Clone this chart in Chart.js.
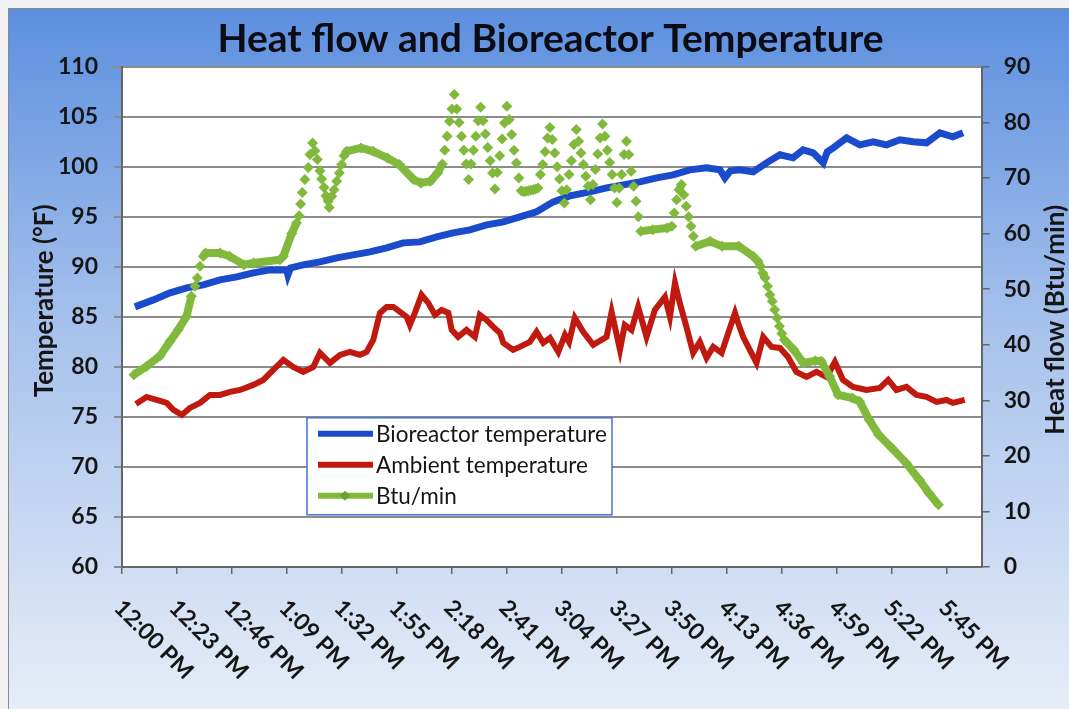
<!DOCTYPE html>
<html>
<head>
<meta charset="utf-8">
<script src="https://cdn.jsdelivr.net/npm/chart.js@4.4.1/dist/chart.umd.min.js"></script>
<style>
  html, body { margin: 0; padding: 0; background: #fff; }
</style>
</head>
<body>
<canvas id="myChart" width="1069" height="709"></canvas>
<script>
// time axis in minutes after 12:00 PM, one label every 23 minutes
const tickLabels = ['12:00 PM','12:23 PM','12:46 PM','1:09 PM','1:32 PM','1:55 PM','2:18 PM','2:41 PM',
  '3:04 PM','3:27 PM','3:50 PM','4:13 PM','4:36 PM','4:59 PM','5:22 PM','5:45 PM'];
const tickStep = 23;

// Bioreactor temperature (°F)
const bioMinutes = [5.4,13.1,20.1,27.1,34,41,48,54.9,61.9,68.9,69.4,70.5,75.8,82.8,89.8,96.7,103.7,110.7,117.6,124.6,
  131.6,138.5,145.5,152.5,159.5,166.4,173.4,180.4,187.3,195.7,202.7,209.6,216.6,223.6,230.5,237.5,244.5,250.1,252.2,254.5,
  258.4,264,269.6,275.2,280.7,284.9,289.1,293.3,295,297.5,303.1,308.6,314.2,319.8,325.4,330.9,336.5,342.1,347.6,351.8];
const bioTemp = [86,86.7,87.4,87.9,88.2,88.7,89,89.4,89.7,89.7,89.2,89.9,90.2,90.5,90.9,91.2,91.5,91.9,92.4,92.5,
  93,93.4,93.7,94.2,94.5,95,95.5,96.5,97.1,97.5,97.9,98.2,98.5,98.9,99.2,99.7,99.9,99.7,98.9,99.6,
  99.7,99.5,100.4,101.2,100.9,101.7,101.4,100.4,101.5,101.9,102.9,102.2,102.5,102.2,102.7,102.5,102.4,103.4,103,103.4];

// Ambient temperature (°F)
const ambMinutes = [5.8,10.3,14.5,18.7,21.5,25,28.4,32.6,36.8,41,45.2,49.4,54.9,59.1,63.3,67.5,71.6,75.8,80,82.8,
  87,91.2,95.3,99.5,102.3,105.1,107.9,110.7,113.5,116.3,119.1,120.4,122.5,125.3,128.1,130.9,133.7,136.5,137.9,140.6,
  144.1,147.6,149.7,152.5,155.3,158.1,159.5,163.6,166.4,170.6,173.4,176.2,179,182.5,185.3,187,189.4,192.9,197.1,202.7,
  204.8,208.3,210.3,213.1,215.9,219.4,222.9,227.1,229.2,231.3,233.3,236.1,238.9,241.7,244.5,247.3,250.8,253.6,256.4,257.7,
  259.8,262.6,265.4,268.2,271.7,275.2,278.6,282.1,286.3,290.5,294.7,298.2,301.6,305.8,311.4,317,320.5,323.9,328.1,332.3,
  336.5,340.7,344.9,347.6,352.5];
const ambTemp = [76.3,77,76.7,76.4,75.7,75.2,75.9,76.4,77.2,77.2,77.5,77.7,78.2,78.7,79.7,80.7,80,79.5,80,81.4,
  80.4,81.2,81.5,81.2,81.5,82.7,85.4,86,86,85.5,85,84.2,85.4,87.2,86.4,85.2,85.7,85.4,83.7,83,
  83.7,83,85.2,84.7,84,83.4,82.4,81.7,82,82.5,83.5,82.4,82.9,81.5,83.2,82.5,84.9,83.5,82.2,83,
  85.5,81.7,84.2,83.7,86,83,85.7,87,85,88.4,86.4,84,81.4,82.5,80.9,82,81.4,83.4,85.4,84.4,
  83,81.7,80.4,83,82,81.9,81,79.5,79,79.5,79,80.5,78.7,78,77.7,77.9,78.7,77.7,78,77.2,
  77,76.5,76.7,76.4,76.7];

// Heat flow (Btu/min)
const btuMinutes = [5,10.3,15.9,20.1,23.5,27,29,30.5,31.5,32.6,34,35,41,45,51,55,66,67.5,71,73,
  74.1,74.7,75.4,76.5,77.9,78.6,79.7,80.7,81.7,82.8,83.5,84.5,85.3,86.3,86.7,87.7,88.7,89.8,90.9,91.9,
  92.9,94,100,105,111,116,122,125,129,132,
  134,135,136,137,138,139,140,141,142,143,144,145,146,147,148,149,150,151,152,153,
  154,155,156,157,158,159,160,161,162,163,164,165,166,167,168,169,170,171,172,173,
  174,175,176,177,178,179,180,181,182,183,184,185,186,187,188,189,190,191,192,193,
  194,195,196,197,198,199,200,201,202,203,204,205,206,207,208,209,210,211,212,213,
  214,215,216,217,222,228,230,231,232,233,234,235,236,237,238,239,240,246,251,258,
  264,266,267,268,269,270,271,272,273,274,275,276,277,281,285,290,292.5,296,299.5,305.5,
  308.5,312.5,316.5,322,328,333.5,337.5,341.5];
const btuValues = [34.6,36.1,38,40.6,42.7,45.1,48.7,50.5,52,54.1,55.9,56.5,56.5,55.9,54.4,54.7,55.3,55.9,60,61.9,
  63.2,65.3,67.4,69.7,71.9,74.2,76.3,74.9,73.3,71.3,69.8,68.3,66.8,65.8,64.7,66.7,67.9,69.4,70.9,72.4,
  74,74.8,75.4,74.8,73.6,72.4,69.7,69.1,69.4,70.9,
  72.5,75,77.5,80.2,82.4,85,82.4,80,77.5,75,72.5,69.7,72.5,75,77.5,80.3,82.7,80.3,77.9,75.5,
  73.1,70.9,68,71,74,77,79.9,82.9,80.5,77.8,75,72.7,70,67.7,67.5,67.6,67.7,67.8,67.9,68,
  68.2,70.6,72.4,74.7,77.2,79.1,76.9,74.5,72,69.8,67.7,65.5,67.9,70.6,73.1,76,78.7,76.6,74.5,72.4,
  70.3,68.5,66.1,68.8,71.5,74.3,77.2,79.7,77.5,75,72.8,70.6,68.2,65.6,68.2,70.6,74.2,76.6,74.2,71.2,
  68.5,65.8,63,60.4,60.7,61,61.3,63.7,66.1,67.9,68.8,67,64.9,63,61.3,59.5,57.7,58.6,57.7,57.7,
  55.9,55,54.1,52.9,52,50.5,49,47.8,46.3,44.8,43.3,42,40.9,39.1,36.7,37.1,37,34.3,31,30.4,
  29.8,26.5,23.8,21.4,18.7,15.7,13.3,11.2];

const BLUE = '#1a4bcc';
const RED = '#c0190f';
const GREEN = '#80b93b';

function toPoints(xs, ys) {
  return xs.map((x, i) => ({ x: x, y: ys[i] }));
}

// page background, gradient frame and white plot area
const bgPlugin = {
  id: 'bg',
  beforeDraw(chart) {
    const { ctx, chartArea: a, width, height } = chart;
    ctx.save();
    ctx.fillStyle = '#f2f2f2';
    ctx.fillRect(0, 0, width, height);
    const g = ctx.createLinearGradient(0, 8, 0, height);
    g.addColorStop(0, '#5c8fdf');
    g.addColorStop(0.45, '#a6c1ec');
    g.addColorStop(1, '#e6edf8');
    ctx.fillStyle = g;
    ctx.fillRect(8, 8, width - 8, height - 8);
    ctx.strokeStyle = '#8a8a8a';
    ctx.lineWidth = 1;
    ctx.strokeRect(8.5, 8.5, width, height);
    ctx.fillStyle = '#ffffff';
    ctx.fillRect(a.left, a.top, a.right - a.left, a.bottom - a.top);
    ctx.restore();
  }
};

function verticalText(ctx, text, x, y) {
  ctx.save();
  ctx.translate(x, y);
  ctx.rotate(-Math.PI / 2);
  ctx.fillText(text, 0, 0);
  ctx.restore();
}

// rotated time labels, axis titles and the boxed legend
const extrasPlugin = {
  id: 'extras',
  afterDraw(chart) {
    const { ctx, chartArea: a } = chart;
    const xs = chart.scales.x;
    ctx.save();
    ctx.fillStyle = '#151515';
    ctx.font = 'bold 23px Lato';
    ctx.textAlign = 'left';
    ctx.textBaseline = 'middle';
    xs.ticks.forEach((t, i) => {
      const px = xs.getPixelForValue(t.value);
      ctx.save();
      ctx.translate(px - 4, a.bottom + 37);
      ctx.rotate(Math.PI / 4);
      ctx.fillText(tickLabels[i], 0, 0);
      ctx.restore();
    });

    ctx.font = 'bold 26px Lato';
    ctx.textAlign = 'center';
    verticalText(ctx, 'Temperature (°F)', 45, a.top + 234);
    verticalText(ctx, 'Heat flow (Btu/min)', 1056, a.top + 253);

    const lx = a.left + 185, ly = a.top + 351, lw = 305, lh = 97;
    ctx.fillStyle = '#ffffff';
    ctx.fillRect(lx, ly, lw, lh);
    ctx.strokeStyle = '#3f74d6';
    ctx.lineWidth = 1.5;
    ctx.strokeRect(lx, ly, lw, lh);
    ctx.font = '22.5px Lato';
    ctx.textAlign = 'left';
    chart.data.datasets.forEach((ds, i) => {
      const y = ly + 16 + i * 31;
      ctx.strokeStyle = ds.borderColor;
      ctx.lineWidth = 6;
      ctx.beginPath();
      ctx.moveTo(lx + 11, y);
      ctx.lineTo(lx + 66, y);
      ctx.stroke();
      if (ds.pointStyle === 'rectRot') {
        ctx.fillStyle = '#6aa02c';
        ctx.beginPath();
        ctx.moveTo(lx + 38 - 5, y);
        ctx.lineTo(lx + 38, y - 5);
        ctx.lineTo(lx + 38 + 5, y);
        ctx.lineTo(lx + 38, y + 5);
        ctx.closePath();
        ctx.fill();
      }
      ctx.fillStyle = '#151515';
      ctx.fillText(ds.label, lx + 69, y + 1);
    });
    ctx.restore();
  }
};

Chart.defaults.font.family = 'Lato, "Open Sans", sans-serif';
Chart.defaults.color = '#151515';

const myChart = new Chart(document.getElementById('myChart'), {
  type: 'line',
  data: {
    datasets: [
      {
        label: 'Bioreactor temperature',
        data: toPoints(bioMinutes, bioTemp),
        yAxisID: 'y',
        borderColor: BLUE,
        borderWidth: 7,
        pointRadius: 0,
        order: 2
      },
      {
        label: 'Ambient temperature',
        data: toPoints(ambMinutes, ambTemp),
        yAxisID: 'y',
        borderColor: RED,
        borderWidth: 6,
        pointRadius: 0,
        order: 1
      },
      {
        label: 'Btu/min',
        data: toPoints(btuMinutes, btuValues),
        yAxisID: 'y2',
        borderColor: GREEN,
        borderWidth: 8,
        pointStyle: 'rectRot',
        pointRadius: 5.5,
        pointBackgroundColor: GREEN,
        pointBorderWidth: 0,
        order: 0,
        // markers only where consecutive readings jump apart
        segment: {
          borderColor: (ctx) => {
            const dx = Math.abs(ctx.p1.x - ctx.p0.x);
            const dy = Math.abs(ctx.p1.y - ctx.p0.y);
            return (dx < 4 && dy > 6) ? 'rgba(0,0,0,0)' : GREEN;
          }
        }
      }
    ]
  },
  options: {
    responsive: false,
    animation: false,
    layout: { padding: { left: 32, right: 0, top: 10, bottom: 0 } },
    plugins: {
      legend: { display: false },
      tooltip: { enabled: false },
      title: {
        display: true,
        text: 'Heat flow and Bioreactor Temperature',
        color: '#0c0c14',
        font: { size: 39, weight: 'bold' },
        padding: { top: 6, bottom: 4 }
      }
    },
    scales: {
      x: {
        type: 'linear',
        min: 0,
        max: 359.6,
        afterBuildTicks: (s) => { s.ticks = tickLabels.map((l, i) => ({ value: i * tickStep })); },
        afterFit: (s) => { s.height = 142; },
        ticks: { display: false },
        grid: { drawOnChartArea: false, drawTicks: true, tickLength: 7, color: '#666', lineWidth: 1.5 },
        border: { color: '#666', width: 2 }
      },
      y: {
        position: 'left',
        min: 60,
        max: 110,
        afterFit: (s) => { s.width = 90; },
        ticks: { stepSize: 5, padding: 16, font: { size: 23, weight: 'bold' }, color: '#151515' },
        grid: { color: '#8c8c8c', lineWidth: 2, tickLength: 8 },
        border: { color: '#666', width: 2 }
      },
      y2: {
        position: 'right',
        min: 0,
        max: 90,
        afterFit: (s) => { s.width = 87.3; },
        ticks: { stepSize: 10, padding: 14, font: { size: 23, weight: 'bold' }, color: '#151515' },
        grid: { drawOnChartArea: false, tickLength: 8, color: '#666', lineWidth: 1.5 },
        border: { color: '#666', width: 2 }
      }
    }
  },
  plugins: [bgPlugin, extrasPlugin]
});
</script>
</body>
</html>
